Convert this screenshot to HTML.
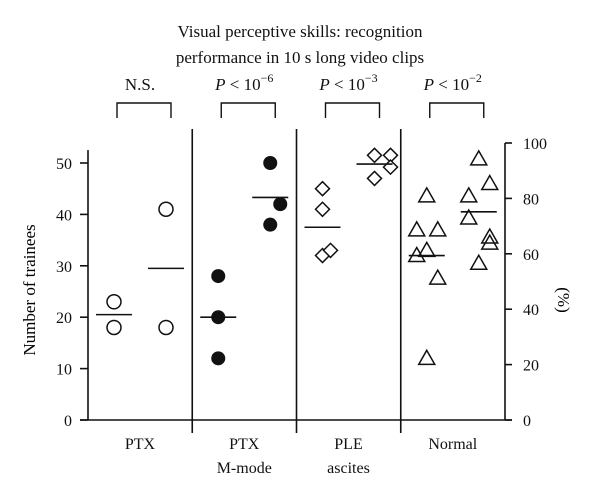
<!DOCTYPE html>
<html><head><meta charset="utf-8"><style>
html,body{margin:0;padding:0;background:#fff;}
svg{display:block;font-family:"Liberation Serif",serif;}
</style></head><body>
<svg id="chart" width="600" height="499" viewBox="0 0 600 499" xmlns="http://www.w3.org/2000/svg">
<g font-size="17" text-anchor="middle" fill="#111">
<text x="300" y="37">Visual perceptive skills: recognition</text>
<text x="300" y="63">performance in 10 s long video clips</text>
</g>
<g id="axes" stroke="#111" stroke-width="1.6" fill="none"></g>
<g id="marks"></g>
<g id="labels" font-size="16" fill="#111"></g>
<text font-size="17" text-anchor="middle" transform="translate(35,290) rotate(-90)">Number of trainees</text>
<text font-size="17" text-anchor="middle" transform="translate(558,300) rotate(90)">(%)</text>
</svg>
<script>
const categories = ["PTX", "PTX|M-mode", "PLE|ascites", "Normal"];
const pLabels = ["N.S.", "-6", "-3", "-2"];
const shapes = ["circle-open", "circle-filled", "diamond", "triangle"];
const before = [[23, 18], [28, 20, 12], [45, 41, 32, 33], [43.6, 37, 37, 33, 32, 27.6, 12]];
const after = [[41, 18], [50, 42, 38], [51.5, 51.5, 49.2, 47], [50.8, 46, 43.6, 39.3, 35.6, 34.4, 30.5]];
const beforeMedian = [20.5, 20, 37.5, 32];
const afterMedian = [29.5, 43.3, 49.8, 40.5];
const leftTicks = [0, 10, 20, 30, 40, 50];
const rightTicks = [0, 20, 40, 60, 80, 100];

const NS = "http://www.w3.org/2000/svg";
const y = v => 420 - v * 5.14;
const y2 = v => 420 - v * 2.77;
const groupX = i => 88 + 104.25 * i;
const colX = (i, k) => groupX(i) + (k === 0 ? 26 : 78);
const jitter = [[0,0],[0,0,0],[0,0,0,8],[0,-10,11,0,-10,11,0]];
const jitter2 = [[0,0],[0,10,0],[0,16,16,0],[0,11,-10,-10,11,11,0]];

function mk(tag, attrs, parent) {
  const e = document.createElementNS(NS, tag);
  for (const k in attrs) e.setAttribute(k, attrs[k]);
  parent.appendChild(e);
  return e;
}
const axes = document.getElementById('axes');
const marks = document.getElementById('marks');
const labels = document.getElementById('labels');

let e = mk('line', {x1: 88, y1: y(52.5), x2: 88, y2: 420}, axes);


e = mk('line', {x1: 505, y1: y2(100), x2: 505, y2: 420}, axes);


e = mk('line', {x1: 80, y1: 420, x2: 512, y2: 420}, axes);



leftTicks.forEach(t => {
  const tk = mk('line', {x1: 80, y1: y(t), x2: 88, y2: y(t)}, axes);
  
  
  const tx = mk('text', {x: 72, y: y(t) + 6, 'text-anchor': 'end'}, labels);
  tx.textContent = t;
  
  
});
rightTicks.forEach(t => {
  const tk = mk('line', {x1: 505, y1: y2(t), x2: 512, y2: y2(t)}, axes);
  
  
  const tx = mk('text', {x: 523, y: y2(t) + 6, 'text-anchor': 'start'}, labels);
  tx.textContent = t;
  
  
});

categories.forEach((c, i) => {
  if (i > 0) {
    const d = mk('line', {x1: groupX(i), y1: 129, x2: groupX(i), y2: 433}, axes);
    
    
  }
  const cx = groupX(i) + 52;
  c.split('|').forEach((ln, j) => {
    const t = mk('text', {x: cx, y: 449 + j * 24, 'text-anchor': 'middle'}, labels);
    t.textContent = ln;
    
    
  });
  const bx1 = colX(i, 0) + 3, bx2 = colX(i, 1) + 5;
  const br = mk('path', {d: `M${bx1} 118 V103 H${bx2} V118`, 'stroke-width': 1.4}, axes);
  
  
  const pt = mk('text', {x: cx, y: 90, 'text-anchor': 'middle', 'font-size': 17}, labels);
  
  
  if (pLabels[i] === 'N.S.') pt.textContent = 'N.S.';
  else pt.innerHTML = '<tspan font-style="italic">P</tspan> &lt; 10<tspan dy="-8" font-size="12">\u2212' + pLabels[i].slice(1) + '</tspan>';

  [before, after].forEach((series, k) => {
    series[i].forEach((v, n) => {
      const jj = (k === 0 ? jitter[i][n] : jitter2[i][n]) || 0;
      const x = colX(i, k) + jj;
      const yy = y(v);
      let m;
      const s = shapes[i];
      if (s === 'circle-open') m = mk('circle', {cx: x, cy: yy, r: 7, fill: '#fff', stroke: '#111', 'stroke-width': 1.5}, marks);
      else if (s === 'circle-filled') m = mk('circle', {cx: x, cy: yy, r: 7, fill: '#111'}, marks);
      else if (s === 'diamond') m = mk('path', {d: `M${x} ${yy-7} L${x+7} ${yy} L${x} ${yy+7} L${x-7} ${yy} Z`, fill: '#fff', stroke: '#111', 'stroke-width': 1.5}, marks);
      else m = mk('path', {d: `M${x} ${yy-8} L${x+8} ${yy+6} L${x-8} ${yy+6} Z`, fill: 'none', stroke: '#111', 'stroke-width': 1.5}, marks);
      
      
    });
    const med = k === 0 ? beforeMedian[i] : afterMedian[i];
    const mx = colX(i, k);
    const ml = mk('line', {x1: mx - 18, y1: y(med), x2: mx + 18, y2: y(med), stroke: '#111', 'stroke-width': 1.6}, marks);
    
    
  });
});
</script>
</body></html>
